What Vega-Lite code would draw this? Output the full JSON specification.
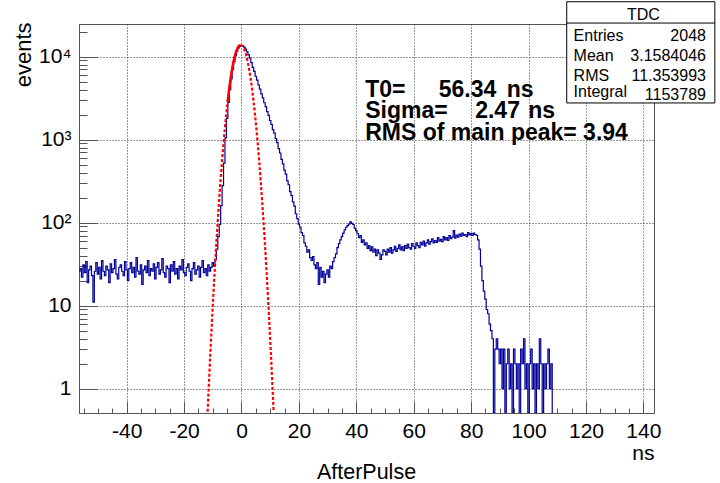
{
"$schema": "https://vega.github.io/schema/vega-lite/v6.json",
"width": 575, "height": 389,
"autosize": {"type": "none"},
"padding": {"left": 79, "top": 24, "right": 66, "bottom": 70},
"background": "white",
"title": {"text": "AfterPulse", "orient": "bottom", "anchor": "middle", "font": "Liberation Sans", "fontSize": 21.5, "fontWeight": "normal", "color": "black", "baseline": "alphabetic", "offset": 16},
"config": {
  "view": {"stroke": "#555", "strokeWidth": 1},
  "font": "Liberation Sans",
  "axis": {"domainColor": "#555", "tickColor": "#555", "labelColor": "black", "labelFont": "Liberation Sans", "labelFontSize": 21, "titleFont": "Liberation Sans", "titleFontSize": 21, "titleFontWeight": "normal", "titleColor": "black", "gridColor": "#333", "gridDash": [1, 2], "gridWidth": 1}
},
"resolve": {"scale": {"y": "independent"}, "axis": {"y": "independent"}},
"datasets": {
  "hist": [
{"x":-56.5,"y":26},{"x":-56,"y":28},{"x":-55.5,"y":22},{"x":-55,"y":31},{"x":-54.5,"y":25},{"x":-54,"y":34},{"x":-53.5,"y":19},{"x":-53,"y":27},{"x":-52.5,"y":30},{"x":-52,"y":23},{"x":-51.5,"y":11},{"x":-51,"y":26},{"x":-50.5,"y":33},{"x":-50,"y":24},{"x":-49.5,"y":29},{"x":-49,"y":21},{"x":-48.5,"y":35},{"x":-48,"y":26},{"x":-47.5,"y":23},{"x":-47,"y":30},{"x":-46.5,"y":27},{"x":-46,"y":19},{"x":-45.5,"y":32},{"x":-45,"y":25},{"x":-44.5,"y":28},{"x":-44,"y":36},{"x":-43.5,"y":24},{"x":-43,"y":21},{"x":-42.5,"y":29},{"x":-42,"y":31},{"x":-41.5,"y":26},{"x":-41,"y":23},{"x":-40.5,"y":34},{"x":-40,"y":27},{"x":-39.5,"y":20},{"x":-39,"y":28},{"x":-38.5,"y":33},{"x":-38,"y":25},{"x":-37.5,"y":29},{"x":-37,"y":22},{"x":-36.5,"y":38},{"x":-36,"y":26},{"x":-35.5,"y":24},{"x":-35,"y":31},{"x":-34.5,"y":18},{"x":-34,"y":27},{"x":-33.5,"y":30},{"x":-33,"y":25},{"x":-32.5,"y":35},{"x":-32,"y":23},{"x":-31.5,"y":28},{"x":-31,"y":26},{"x":-30.5,"y":32},{"x":-30,"y":21},{"x":-29.5,"y":29},{"x":-29,"y":33},{"x":-28.5,"y":24},{"x":-28,"y":27},{"x":-27.5,"y":37},{"x":-27,"y":25},{"x":-26.5,"y":22},{"x":-26,"y":30},{"x":-25.5,"y":28},{"x":-25,"y":19},{"x":-24.5,"y":31},{"x":-24,"y":26},{"x":-23.5,"y":34},{"x":-23,"y":24},{"x":-22.5,"y":28},{"x":-22,"y":21},{"x":-21.5,"y":30},{"x":-21,"y":27},{"x":-20.5,"y":36},{"x":-20,"y":25},{"x":-19.5,"y":23},{"x":-19,"y":29},{"x":-18.5,"y":32},{"x":-18,"y":26},{"x":-17.5,"y":20},{"x":-17,"y":28},{"x":-16.5,"y":33},{"x":-16,"y":24},{"x":-15.5,"y":27},{"x":-15,"y":30},{"x":-14.5,"y":22},{"x":-14,"y":29},{"x":-13.5,"y":35},{"x":-13,"y":25},{"x":-12.5,"y":28},{"x":-12,"y":23},{"x":-11.5,"y":31},{"x":-11,"y":26},{"x":-10.5,"y":29},{"x":-10,"y":33},{"x":-9.5,"y":30},{"x":-9,"y":36},{"x":-8.5,"y":48},{"x":-8,"y":68},{"x":-7.5,"y":95},{"x":-7,"y":160},{"x":-6.5,"y":280},{"x":-6,"y":520},{"x":-5.5,"y":1050},{"x":-5,"y":1800},{"x":-4.5,"y":2800},{"x":-4,"y":4000},{"x":-3.5,"y":5400},{"x":-3,"y":7000},{"x":-2.5,"y":8700},{"x":-2,"y":10300},{"x":-1.5,"y":11700},{"x":-1,"y":12700},{"x":-0.5,"y":13300},{"x":0,"y":13600},{"x":0.5,"y":13500},{"x":1,"y":13000},{"x":1.5,"y":12300},{"x":2,"y":11400},{"x":2.5,"y":10500},{"x":3,"y":9600},{"x":3.5,"y":8450},{"x":4,"y":7400},{"x":4.5,"y":6650},{"x":5,"y":5800},{"x":5.5,"y":5200},{"x":6,"y":4550},{"x":6.5,"y":4060},{"x":7,"y":3550},{"x":7.5,"y":3180},{"x":8,"y":2780},{"x":8.5,"y":2500},{"x":9,"y":2170},{"x":9.5,"y":1960},{"x":10,"y":1700},{"x":10.5,"y":1530},{"x":11,"y":1320},{"x":11.5,"y":1200},{"x":12,"y":1030},{"x":12.5,"y":920},{"x":13,"y":780},{"x":13.5,"y":690},{"x":14,"y":580},{"x":14.5,"y":510},{"x":15,"y":430},{"x":15.5,"y":385},{"x":16,"y":318},{"x":16.5,"y":286},{"x":17,"y":236},{"x":17.5,"y":212},{"x":18,"y":178},{"x":18.5,"y":158},{"x":19,"y":128},{"x":19.5,"y":112},{"x":20,"y":96},{"x":20.5,"y":88},{"x":21,"y":76},{"x":21.5,"y":70},{"x":22,"y":57},{"x":22.5,"y":52},{"x":23,"y":44},{"x":23.5,"y":47},{"x":24,"y":38},{"x":24.5,"y":35},{"x":25,"y":39},{"x":25.5,"y":31},{"x":26,"y":28},{"x":26.5,"y":33},{"x":27,"y":18},{"x":27.5,"y":29},{"x":28,"y":22},{"x":28.5,"y":26},{"x":29,"y":19},{"x":29.5,"y":24},{"x":30,"y":27},{"x":30.5,"y":22},{"x":31,"y":30},{"x":31.5,"y":28},{"x":32,"y":34},{"x":32.5,"y":38},{"x":33,"y":42},{"x":33.5,"y":50},{"x":34,"y":56},{"x":34.5,"y":62},{"x":35,"y":68},{"x":35.5,"y":75},{"x":36,"y":82},{"x":36.5,"y":88},{"x":37,"y":92},{"x":37.5,"y":96},{"x":38,"y":102},{"x":38.5,"y":98},{"x":39,"y":95},{"x":39.5,"y":86},{"x":40,"y":80},{"x":40.5,"y":74},{"x":41,"y":66},{"x":41.5,"y":70},{"x":42,"y":58},{"x":42.5,"y":62},{"x":43,"y":54},{"x":43.5,"y":57},{"x":44,"y":49},{"x":44.5,"y":53},{"x":45,"y":46},{"x":45.5,"y":51},{"x":46,"y":44},{"x":46.5,"y":48},{"x":47,"y":40},{"x":47.5,"y":47},{"x":48,"y":43},{"x":48.5,"y":36},{"x":49,"y":41},{"x":49.5,"y":47},{"x":50,"y":45},{"x":50.5,"y":41},{"x":51,"y":48},{"x":51.5,"y":44},{"x":52,"y":50},{"x":52.5,"y":43},{"x":53,"y":47},{"x":53.5,"y":52},{"x":54,"y":45},{"x":54.5,"y":49},{"x":55,"y":54},{"x":55.5,"y":47},{"x":56,"y":51},{"x":56.5,"y":46},{"x":57,"y":53},{"x":57.5,"y":49},{"x":58,"y":55},{"x":58.5,"y":50},{"x":59,"y":48},{"x":59.5,"y":56},{"x":60,"y":52},{"x":60.5,"y":49},{"x":61,"y":57},{"x":61.5,"y":53},{"x":62,"y":50},{"x":62.5,"y":58},{"x":63,"y":54},{"x":63.5,"y":60},{"x":64,"y":52},{"x":64.5,"y":57},{"x":65,"y":62},{"x":65.5,"y":55},{"x":66,"y":59},{"x":66.5,"y":64},{"x":67,"y":57},{"x":67.5,"y":61},{"x":68,"y":58},{"x":68.5,"y":66},{"x":69,"y":60},{"x":69.5,"y":63},{"x":70,"y":59},{"x":70.5,"y":68},{"x":71,"y":62},{"x":71.5,"y":66},{"x":72,"y":61},{"x":72.5,"y":70},{"x":73,"y":64},{"x":73.5,"y":67},{"x":74,"y":80},{"x":74.5,"y":65},{"x":75,"y":71},{"x":75.5,"y":67},{"x":76,"y":73},{"x":76.5,"y":69},{"x":77,"y":75},{"x":77.5,"y":70},{"x":78,"y":72},{"x":78.5,"y":68},{"x":79,"y":76},{"x":79.5,"y":71},{"x":80,"y":74},{"x":80.5,"y":70},{"x":81,"y":75},{"x":81.5,"y":72},{"x":82,"y":70},{"x":82.5,"y":62},{"x":83,"y":48},{"x":83.5,"y":30},{"x":84,"y":20},{"x":84.5,"y":15},{"x":85,"y":12},{"x":85.5,"y":9},{"x":86,"y":8},{"x":86.5,"y":6},{"x":87,"y":5},{"x":87.5,"y":4},{"x":88,"y":0},{"x":88.5,"y":3},{"x":89,"y":4},{"x":89.5,"y":3},{"x":90,"y":2},{"x":90.5,"y":3},{"x":91,"y":1},{"x":91.5,"y":3},{"x":92,"y":0},{"x":92.5,"y":2},{"x":93,"y":3},{"x":93.5,"y":1},{"x":94,"y":2},{"x":94.5,"y":0},{"x":95,"y":3},{"x":95.5,"y":2},{"x":96,"y":1},{"x":96.5,"y":2},{"x":97,"y":0},{"x":97.5,"y":3},{"x":98,"y":2},{"x":98.5,"y":4},{"x":99,"y":1},{"x":99.5,"y":2},{"x":100,"y":0},{"x":100.5,"y":2},{"x":101,"y":3},{"x":101.5,"y":1},{"x":102,"y":2},{"x":102.5,"y":0},{"x":103,"y":2},{"x":103.5,"y":1},{"x":104,"y":4},{"x":104.5,"y":2},{"x":105,"y":0},{"x":105.5,"y":2},{"x":106,"y":1},{"x":106.5,"y":2},{"x":107,"y":3},{"x":107.5,"y":1},{"x":108,"y":2},{"x":108.5,"y":0}
  ],
  "fit": [
{"x":-11.8,"y":0.528},{"x":-11.3,"y":1.25},{"x":-10.8,"y":2.86},{"x":-10.3,"y":6.3},{"x":-9.8,"y":13.3},{"x":-9.3,"y":27.2},{"x":-8.8,"y":53.2},{"x":-8.3,"y":100.4},{"x":-7.8,"y":182},{"x":-7.3,"y":318},{"x":-6.8,"y":535},{"x":-6.3,"y":865},{"x":-5.8,"y":1347},{"x":-5.3,"y":2017},{"x":-4.8,"y":2906},{"x":-4.3,"y":4031},{"x":-3.8,"y":5378},{"x":-3.3,"y":6906},{"x":-2.8,"y":8533},{"x":-2.3,"y":10143},{"x":-1.8,"y":11607},{"x":-1.3,"y":12779},{"x":-0.8,"y":13537},{"x":-0.3,"y":13800},{"x":0.2,"y":13537},{"x":0.7,"y":12779},{"x":1.2,"y":11607},{"x":1.7,"y":10143},{"x":2.2,"y":8533},{"x":2.7,"y":6906},{"x":3.2,"y":5378},{"x":3.7,"y":4031},{"x":4.2,"y":2906},{"x":4.7,"y":2017},{"x":5.2,"y":1347},{"x":5.7,"y":865},{"x":6.2,"y":535},{"x":6.7,"y":318},{"x":7.2,"y":182},{"x":7.7,"y":100.4},{"x":8.2,"y":53.2},{"x":8.7,"y":27.2},{"x":9.2,"y":13.3},{"x":9.7,"y":6.3},{"x":10.2,"y":2.86},{"x":10.7,"y":1.25},{"x":11.2,"y":0.528}
  ],
  "fitcore": [
{"x":-4.8,"y":2906},{"x":-4.3,"y":4031},{"x":-3.8,"y":5378},{"x":-3.3,"y":6906},{"x":-2.8,"y":8533},{"x":-2.3,"y":10143},{"x":-1.8,"y":11607},{"x":-1.3,"y":12779},{"x":-0.8,"y":13537},{"x":-0.3,"y":13800}
  ],
  "box": [{"x":113.3,"x2":164.9,"y":2765,"y2":45800}],
  "sep": [{"x":113.3,"x2":164.9,"y":25360}],
  "ann": [
{"x":43.1,"y":3290,"t":"T0="},{"x":68.7,"y":3290,"t":"56.34"},{"x":92.4,"y":3290,"t":"ns"},
{"x":43.1,"y":1824,"t":"Sigma="},{"x":81.4,"y":1824,"t":"2.47"},{"x":99.9,"y":1824,"t":"ns"},
{"x":43.1,"y":992,"t":"RMS of main peak= 3.94"}
  ],
  "stitle": [{"x":140,"y":27600,"t":"TDC"}],
  "sleft": [{"x":115.7,"y":15530,"t":"Entries"},{"x":115.7,"y":8850,"t":"Mean"},{"x":115.7,"y":5085,"t":"RMS"},{"x":115.7,"y":3290,"t":"Integral"}],
  "sright": [{"x":161.8,"y":15530,"t":"2048"},{"x":161.8,"y":8850,"t":"3.1584046"},{"x":161.8,"y":5085,"t":"11.353993"},{"x":161.8,"y":3005,"t":"1153789"}]
},
"encoding": {
  "x": {"field": "x", "type": "quantitative",
    "scale": {"domain": [-56.6, 143.7], "nice": false, "zero": false},
    "axis": {
      "values": [-55,-50,-45,-40,-35,-30,-25,-20,-15,-10,-5,0,5,10,15,20,25,30,35,40,45,50,55,60,65,70,75,80,85,90,95,100,105,110,115,120,125,130,135,140],
      "labelExpr": "indexof([-40,-20,0,20,40,60,80,100,120,140], datum.value) >= 0 ? '' + datum.value : ''",
      "tickSize": {"condition": {"test": "indexof([-40,-20,0,20,40,60,80,100,120,140], datum.value) >= 0", "value": -12}, "value": -5},
      "grid": true,
      "gridOpacity": {"condition": {"test": "indexof([-40,-20,0,20,40,60,80,100,120,140], datum.value) >= 0", "value": 1}, "value": 0},
      "labelPadding": 19,
      "labelFlush": false,
      "labelOverlap": false,
      "title": "ns",
      "titleAnchor": "end",
      "titleAlign": "right",
      "titleBaseline": "alphabetic",
      "titleX": 575,
      "titleY": 46
    }}
},
"layer": [
  {
    "data": {"name": "hist"},
    "mark": {"type": "line", "interpolate": "step", "color": "#000099", "strokeWidth": 1.2, "clip": true, "invalid": "show"},
    "encoding": {
      "y": {"field": "y", "type": "quantitative",
        "scale": {"type": "log", "domain": [0.51, 24700], "nice": false, "zero": false, "clamp": true},
        "axis": {
          "values": [1,2,3,4,5,6,7,8,9,10,20,30,40,50,60,70,80,90,100,200,300,400,500,600,700,800,900,1000,2000,3000,4000,5000,6000,7000,8000,9000,10000,20000],
          "labelExpr": "datum.value == 1 ? '1' : datum.value == 10 ? '10' : datum.value == 100 ? '10²' : datum.value == 1000 ? '10³' : datum.value == 10000 ? '10⁴' : ''",
          "tickSize": {"condition": {"test": "indexof([1,10,100,1000,10000], datum.value) >= 0", "value": -18}, "value": -8},
          "grid": true,
          "gridOpacity": {"condition": {"test": "indexof([1,10,100,1000,10000], datum.value) >= 0", "value": 1}, "value": 0},
          "labelPadding": 26,
          "labelFlush": false,
          "labelOverlap": false,
          "title": "events",
          "titleFontSize": 22,
          "titleAngle": -90,
          "titleAlign": "right",
          "titleBaseline": "alphabetic",
          "titleX": -49,
          "titleY": -2
        }}
    }
  },
  {
    "data": {"name": "fit"},
    "mark": {"type": "line", "interpolate": "monotone", "color": "#ff0000", "strokeWidth": 2.2, "strokeDash": [3, 2], "clip": true},
    "encoding": {"y": {"field": "y", "type": "quantitative", "scale": {"type": "log", "domain": [0.51, 24700], "nice": false, "zero": false}, "axis": null}}
  },
  {
    "data": {"name": "fitcore"},
    "mark": {"type": "line", "interpolate": "monotone", "color": "#ff0000", "strokeWidth": 2.4, "clip": true},
    "encoding": {"y": {"field": "y", "type": "quantitative", "scale": {"type": "log", "domain": [0.51, 24700], "nice": false, "zero": false}, "axis": null}}
  },
  {
    "data": {"name": "box"},
    "mark": {"type": "rect", "fill": "white", "stroke": "black", "strokeWidth": 1, "clip": false},
    "encoding": {"x2": {"field": "x2"}, "y": {"field": "y", "type": "quantitative", "scale": {"type": "log", "domain": [0.51, 24700], "nice": false, "zero": false}, "axis": null}, "y2": {"field": "y2"}}
  },
  {
    "data": {"name": "sep"},
    "mark": {"type": "rule", "color": "black", "strokeWidth": 1, "clip": false},
    "encoding": {"x2": {"field": "x2"}, "y": {"field": "y", "type": "quantitative", "scale": {"type": "log", "domain": [0.51, 24700], "nice": false, "zero": false}, "axis": null}}
  },
  {
    "data": {"name": "ann"},
    "mark": {"type": "text", "align": "left", "baseline": "alphabetic", "font": "Liberation Sans", "fontSize": 23, "fontWeight": "bold", "color": "black", "clip": false},
    "encoding": {"y": {"field": "y", "type": "quantitative", "scale": {"type": "log", "domain": [0.51, 24700], "nice": false, "zero": false}, "axis": null}, "text": {"field": "t"}}
  },
  {
    "data": {"name": "stitle"},
    "mark": {"type": "text", "align": "center", "baseline": "alphabetic", "font": "Liberation Sans", "fontSize": 16, "color": "black", "clip": false},
    "encoding": {"y": {"field": "y", "type": "quantitative", "scale": {"type": "log", "domain": [0.51, 24700], "nice": false, "zero": false}, "axis": null}, "text": {"field": "t"}}
  },
  {
    "data": {"name": "sleft"},
    "mark": {"type": "text", "align": "left", "baseline": "alphabetic", "font": "Liberation Sans", "fontSize": 16, "color": "black", "clip": false},
    "encoding": {"y": {"field": "y", "type": "quantitative", "scale": {"type": "log", "domain": [0.51, 24700], "nice": false, "zero": false}, "axis": null}, "text": {"field": "t"}}
  },
  {
    "data": {"name": "sright"},
    "mark": {"type": "text", "align": "right", "baseline": "alphabetic", "font": "Liberation Sans", "fontSize": 16, "color": "black", "clip": false},
    "encoding": {"y": {"field": "y", "type": "quantitative", "scale": {"type": "log", "domain": [0.51, 24700], "nice": false, "zero": false}, "axis": null}, "text": {"field": "t"}}
  }
]
}
